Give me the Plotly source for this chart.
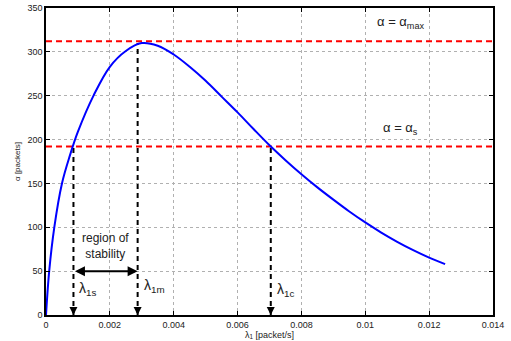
import plotly.graph_objects as go

# ---- data ----
lam = [0, 0.0001, 0.00026, 0.0005, 0.00075, 0.001, 0.0015, 0.002, 0.0025, 0.003,
       0.0035, 0.004, 0.0045, 0.005, 0.0055, 0.006, 0.0065, 0.007, 0.0075, 0.008,
       0.0085, 0.009, 0.0095, 0.01, 0.0105, 0.011, 0.0115, 0.012, 0.0125]
alpha = [0, 50, 100, 150, 182, 209, 251, 283, 301, 310,
         307, 297, 283, 267, 249, 231, 212, 193.5, 176.5, 160.5,
         145.5, 131.5, 118, 105.5, 94, 83.5, 74, 65.5, 58]

alpha_max = 312
alpha_s = 192
lam_marks = [0.00086, 0.00287, 0.00704]      # lambda_1s, lambda_1m, lambda_1c
lam_tops = [192, 310, 192]
lam_labels = ["λ<sub>1s</sub>", "λ<sub>1m</sub>", "λ<sub>1c</sub>"]
lam_label_y = [30, 33, 28]
stab_y = 50

x_ticks = [0, 0.002, 0.004, 0.006, 0.008, 0.01, 0.012, 0.014]
x_ticktext = ["0", "0.002", "0.004", "0.006", "0.008", "0.01", "0.012", "0.014"]
y_ticks = [0, 50, 100, 150, 200, 250, 300, 350]

FONT = "Liberation Sans, Arial, sans-serif"

fig = go.Figure()

# red dashed reference lines
for a in (alpha_max, alpha_s):
    fig.add_trace(go.Scatter(x=[0, 0.014], y=[a, a], mode="lines",
                             line=dict(color="red", width=2, dash="6px,4px"),
                             hoverinfo="skip", showlegend=False))

# vertical dashed lines
for lx, ty in zip(lam_marks, lam_tops):
    fig.add_trace(go.Scatter(x=[lx, lx], y=[0, ty], mode="lines",
                             line=dict(color="black", width=2, dash="5px,4px"),
                             hoverinfo="skip", showlegend=False))

# main curve
fig.add_trace(go.Scatter(x=lam, y=alpha, mode="lines",
                         line=dict(color="#0000ff", width=2, shape="spline", smoothing=1.0),
                         showlegend=False))

annotations = []
# arrowheads at the bottom of the dashed lines
for lx in lam_marks:
    annotations.append(dict(x=lx, y=0, ax=lx, ay=8, xref="x", yref="y",
                            axref="x", ayref="y", showarrow=True, arrowhead=2,
                            arrowsize=0.8, arrowwidth=2, arrowcolor="black", text="",
                            standoff=0))
# double arrow region of stability
annotations.append(dict(x=lam_marks[1], y=stab_y, ax=lam_marks[0], ay=stab_y,
                        xref="x", yref="y", axref="x", ayref="y", showarrow=True,
                        arrowhead=2, arrowside="end+start", arrowsize=1.0,
                        arrowwidth=2, arrowcolor="black", text="", standoff=0,
                        startstandoff=0))
annotations.append(dict(x=(lam_marks[0] + lam_marks[1]) / 2, y=79, xref="x", yref="y",
                        text="region of<br>stability", showarrow=False, xanchor="center",
                        font=dict(size=12, color="#222", family=FONT)))
for lx, lab, ly in zip(lam_marks, lam_labels, lam_label_y):
    annotations.append(dict(x=lx, y=ly, xref="x", yref="y", text=lab, showarrow=False,
                            xanchor="left", xshift=4,
                            font=dict(size=14, color="#222", family=FONT)))
annotations.append(dict(x=0.0111, y=334, xref="x", yref="y",
                        text="α = α<sub>max</sub>", showarrow=False,
                        font=dict(size=13, color="#222", family=FONT)))
annotations.append(dict(x=0.0111, y=213, xref="x", yref="y",
                        text="α = α<sub>s</sub>", showarrow=False,
                        font=dict(size=13, color="#222", family=FONT)))

axis_common = dict(showline=True, linecolor="black", linewidth=1.5, mirror="ticks",
                   ticks="inside", ticklen=4, tickcolor="black",
                   showgrid=True, gridcolor="#b0b0b0", griddash="dot", gridwidth=1,
                   zeroline=False, tickfont=dict(size=9, color="#222", family=FONT))

fig.update_layout(
    width=511, height=341,
    margin=dict(l=46, r=18, t=3, b=25),
    paper_bgcolor="white", plot_bgcolor="white",
    font=dict(family=FONT),
    xaxis=dict(range=[0, 0.014], tickvals=x_ticks, ticktext=x_ticktext,
               title=dict(text="λ<sub>1</sub> [packet/s]", font=dict(size=9, color="#222"),
                          standoff=2), **axis_common),
    yaxis=dict(range=[0, 350], tickvals=y_ticks,
               title=dict(text="α [packets]", font=dict(size=8, color="#222"), standoff=6),
               **axis_common),
    annotations=annotations,
)

fig.write_html("out.html")
